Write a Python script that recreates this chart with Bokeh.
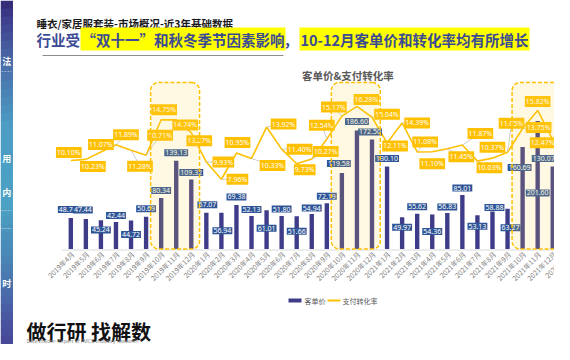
from bokeh.plotting import figure
from bokeh.models import Range1d, ColumnDataSource
from bokeh.core.properties import value
from bokeh.embed import file_html
from bokeh.resources import INLINE
import numpy as np

# ---------------- data ----------------
months = ["2019年4月", "2019年5月", "2019年6月", "2019年7月", "2019年8月", "2019年9月",
          "2019年10月", "2019年11月", "2019年12月",
          "2020年1月", "2020年2月", "2020年3月", "2020年4月", "2020年5月", "2020年6月",
          "2020年7月", "2020年8月", "2020年9月", "2020年10月", "2020年11月", "2020年12月",
          "2021年1月", "2021年2月", "2021年3月", "2021年4月", "2021年5月", "2021年6月",
          "2021年7月", "2021年8月", "2021年9月", "2021年10月", "2021年11月", "2021年12月",
          "2022年1月"]
aov = [48.70, 47.44, 45.24, 42.44, 44.72, 50.69, 80.34, 139.13, 109.32,
       57.07, 56.94, 69.38, 52.13, 61.01, 51.80, 51.66, 54.94, 72.19, 119.58, 186.60, 172.50,
       130.10, 49.97, 55.62, 54.36, 56.83, 85.01, 53.13, 58.88, 63.27, 160.69, 201.60, 130.07,
       100.40]
cvr = [10.10, 10.23, 11.07, 11.89, 11.28, 10.71, 14.75, 14.74, 13.27,
       9.93, 7.96, 10.95, 10.33, 13.92, 11.40, 9.73, 10.27, 12.54, 15.17, 16.28, 15.04,
       12.11, 14.39, 11.08, 11.10, 11.45, 11.87, 10.03, 10.37, 11.05, 13.75, 15.82, 12.47,
       11.07]
highlight_groups = [("2019年10月", "2019年12月"), ("2020年10月", "2020年12月"), ("2021年10月", "2021年12月")]
subtitle = "睡衣/家居服套装-市场概况-近3年基础数据"
title_parts = ["行业受", "“双十一”和秋冬季节因素影响", "，", "10-12月客单价和转化率均有所增长"]
chart_title = "客单价&支付转化率"
legend_names = ["客单价", "支付转化率"]
brand = "做行研 找解数"
brand_sub = "Data Insider- Expert of FMCG Industry Research"
side_chars = ["法", "用", "内", "时"]

# ---------------- label placement (screen px offsets, style only) ----------------
bar_dx = [-3, -3, 0, 0, 0, 0, 0, 0, 0, 1, 1, 0, 0, 0, 0, 0, 0, 0, -3, 0, -2, 0, 0, 0, 0, 0, 0, 0, 2, 3, -3, 0, -9, 9]
bar_dy = [-8.6, -9, 9.7, -6.5, 14, -8, -7.5, -8, -7, -8, 18, -8, -6.5, 18, -7, 15, -6, -7, -9.6, -9,
          -7.5, -8, 10, -7, 17, -6, -7, 11, -4, 19, 20.5, 72, -8, -8]
cvr_dx = [-2, 7, 0, 10, 9, 14, 3, 9, 8, 17, 16, 1, 21, 17, 18, 8, 14, -5, -8, 9.5,
          15, 8, 15, 8, 0, 14, 18, 12, 0, 4, 16, 0, -10, 10]
cvr_dy = [-8, 7, -7.5, -10, 16, -20, -10, 5, 8, 0, 0, -10.5, 7, -3, 0, 6, -7.5, -14, -9, -7,
          -3, 3, 0, -10, 12, 8, -11.5, 6.5, -11, -29, -1, -9, 3, -16]

W, H = 554, 344
STEP = 15.06          # px per category
X0 = 70.3             # px of first category
BASE = 248.5          # px (from top) of zero line
BAR_PX = 0.635        # px per unit of 客单价
CVR_PX = 8.76         # px per 1% of 转化率

FONT = value("Noto Sans CJK SC")
BAR_C = "#3E3C88"
LBL_C = "#2F5597"
YEL = "#FFC000"

idx = list(range(len(months)))

p = figure(width=W, height=H, output_backend="svg", toolbar_location=None,
           x_range=Range1d(-X0 / STEP, (W - X0) / STEP),
           y_range=Range1d(-(H - BASE) / BAR_PX, BASE / BAR_PX),
           x_axis_type=None, y_axis_type=None, min_border=0,
           outline_line_color=None, background_fill_color="white", border_fill_color="white")
p.extra_y_ranges = {"cvr": Range1d(-(H - BASE) / CVR_PX, BASE / CVR_PX),
                    "py": Range1d(H, 0)}
p.extra_x_ranges = {"px": Range1d(0, W)}

PX = dict(x_range_name="px", y_range_name="py")

# ---------------- left sidebar gradient ----------------
stops_y = [0, 12, 60, 120, 200, 260, 320, 360]
stops_c = [(52, 46, 120), (62, 60, 140), (74, 110, 170), (76, 156, 196), (76, 162, 196),
           (74, 130, 180), (74, 82, 160), (67, 58, 142)]
ys = np.linspace(0, H, 44)
cols = []
for a in ys[:-1]:
    r = [int(np.interp(a, stops_y, [c[k] for c in stops_c])) for k in range(3)]
    cols.append("#%02x%02x%02x" % tuple(r))
p.quad(left=0, right=12.5, top=ys[:-1], bottom=ys[1:] + 0.5, fill_color=cols, line_color=None, **PX)
p.text(x=[6.3] * 4, y=[61, 158, 192, 283], text=side_chars, text_font=FONT, text_font_size="9px",
       text_font_style="bold", text_color="white", text_align="center", text_baseline="middle", **PX)
p.segment(x0=[1, 1, 1], y0=[71, 210, 228], x1=[11, 11, 11], y1=[71, 210, 228], line_color="white",
          line_alpha=0.6, line_width=0.7, line_dash="2 1", **PX)

# ---------------- headings ----------------
p.text(x=[36], y=[22.5], text=[subtitle], text_font=FONT, text_font_size="10.5px", text_font_style="bold",
       text_color="#1a1a1a", text_align="left", text_baseline="middle", **PX)
tx = [36, 80, 283, 299]
bgs = [None, "#FFFF00", None, "#FFFF00"]
for t, x, bg in zip(title_parts, tx, bgs):
    kw = {}
    if bg:
        kw = dict(background_fill_color=bg, padding=1)
    p.text(x=[x], y=[38.5], text=[t], text_font=FONT, text_font_size="14.5px", text_font_style="bold",
           text_color="#3B4A94", text_align="left", text_baseline="middle", **PX, **kw)
p.segment(x0=[42], y0=[55], x1=[283], y1=[55], line_color="#8c8c8c", line_width=1, **PX)
p.text(x=[301.5], y=[75], text=[chart_title], text_font=FONT, text_font_size="10.5px", text_font_style="bold",
       text_color="#595959", text_align="left", text_baseline="middle", **PX)

# ---------------- axis line ----------------
p.segment(x0=[-0.6], y0=[BASE + 1], x1=[len(months)], y1=[BASE + 1], line_color="#d9d9d9", line_width=1,
          y_range_name="py")

# ---------------- bars ----------------
src = ColumnDataSource(dict(x=idx, aov=aov, cvr=cvr, months=months,
                            aov_t=["%.2f" % v for v in aov], cvr_t=["%.2f%%" % v for v in cvr],
                            bdx=bar_dx, bdy=bar_dy, cdx=cvr_dx, cdy=cvr_dy))
p.vbar(x="x", top="aov", width=0.29, bottom=0, fill_color=BAR_C, line_color=None, source=src)

# ---------------- line ----------------
p.line(x="x", y="cvr", line_color=YEL, line_width=1.6, source=src, y_range_name="cvr")

# ---------------- leader lines for displaced rate labels ----------------
lx0, ly0, lx1, ly1 = [], [], [], []
for i, (dx, dy) in enumerate(zip(cvr_dx, cvr_dy)):
    if (dx * dx + dy * dy) ** 0.5 > 12:
        lx0.append(i); ly0.append(cvr[i])
        lx1.append(i + dx / STEP); ly1.append(cvr[i] - dy / CVR_PX)
p.segment(x0=lx0, y0=ly0, x1=lx1, y1=ly1, line_color="#bfbfbf", line_width=0.8, y_range_name="cvr")

# ---------------- data labels ----------------
p.text(x="x", y="aov", text="aov_t", x_offset="bdx", y_offset="bdy", source=src,
       text_font=value("Noto Sans"), text_font_size="7px", text_color="white",
       text_align="center", text_baseline="middle", background_fill_color=LBL_C, padding=1)
p.text(x="x", y="cvr", text="cvr_t", x_offset="cdx", y_offset="cdy", source=src, y_range_name="cvr",
       text_font=value("Noto Sans"), text_font_size="7px", text_color="white",
       text_align="center", text_baseline="middle", background_fill_color=YEL, padding=1)

# ---------------- x labels ----------------
p.text(x="x", y=BASE + 4, text="months", source=src, y_range_name="py", x_offset=2,
       angle=np.pi / 4, text_font=FONT, text_font_size="7px", text_color="#7f7f7f",
       text_align="right", text_baseline="middle")

# ---------------- highlight boxes ----------------
r = 8.0
rx = r / STEP
for a, b in highlight_groups:
    l = months.index(a) - 0.7
    rr = months.index(b) + 0.55
    top, bot = 82.0, BASE
    th = np.linspace(0, np.pi / 2, 10)
    xs, ys2 = [], []
    xs += list(rr - rx + rx * np.sin(th)); ys2 += list(top + r - r * np.cos(th))
    xs += list(rr - rx + rx * np.cos(th)); ys2 += list(bot - r + r * np.sin(th))
    xs += list(l + rx - rx * np.sin(th)); ys2 += list(bot - r + r * np.cos(th))
    xs += list(l + rx - rx * np.cos(th)); ys2 += list(top + r - r * np.sin(th))
    p.patch(x=xs, y=ys2, fill_color="#FFD94A", fill_alpha=0.15, line_color=YEL, line_width=1.5,
            line_dash="4 2", y_range_name="py")

# ---------------- legend ----------------
p.quad(left=[288], right=[301], top=[298], bottom=[302], fill_color=BAR_C, line_color=None, **PX)
p.text(x=[304], y=[300], text=[legend_names[0]], text_font=FONT, text_font_size="7px", text_color="#595959",
       text_align="left", text_baseline="middle", **PX)
p.segment(x0=[327], y0=[300], x1=[340], y1=[300], line_color=YEL, line_width=2, **PX)
p.text(x=[342], y=[300], text=[legend_names[1]], text_font=FONT, text_font_size="7px", text_color="#595959",
       text_align="left", text_baseline="middle", **PX)

# ---------------- brand ----------------
p.text(x=[26], y=[331], text=[brand], text_font=FONT, text_font_size="20px", text_font_style="bold",
       text_color="#111111", text_align="left", text_baseline="middle", **PX)
p.text(x=[26], y=[340.5], text=[brand_sub], text_font=value("Noto Sans"), text_font_size="5px",
       text_color="#8c8c8c", text_align="left", text_baseline="middle", **PX)

open("out.html", "w").write(file_html(p, INLINE))
